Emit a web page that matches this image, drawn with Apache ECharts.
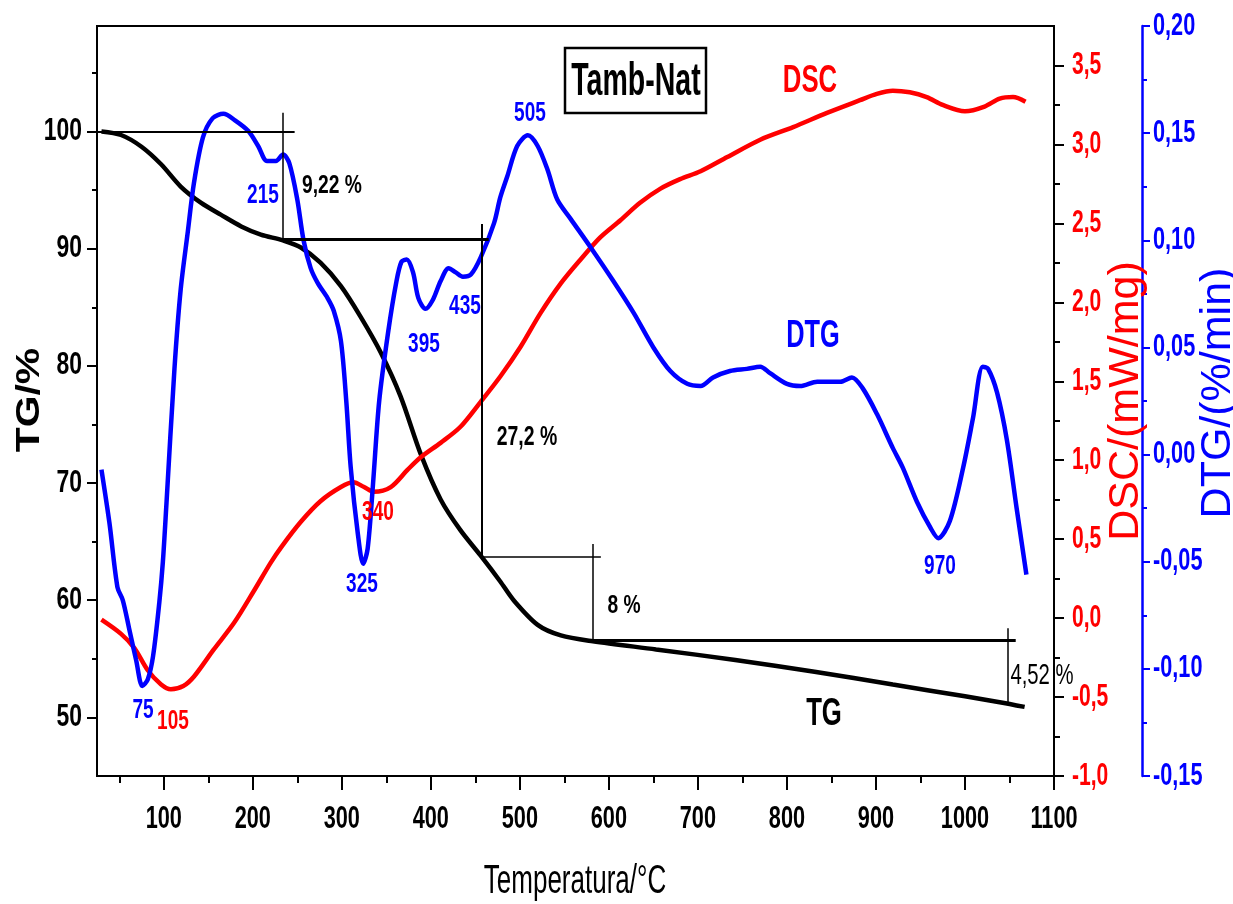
<!DOCTYPE html>
<html>
<head>
<meta charset="utf-8">
<script src="https://cdn.jsdelivr.net/npm/echarts@6/dist/echarts.min.js"></script>
<style>
  html, body { margin: 0; padding: 0; background: #fff; }
  #chart { width: 1233px; height: 904px; }
</style>
</head>
<body>
<div id="chart"></div>
<script>
// TG curve (%), temperature in °C
const tgTemp = [30, 52, 75, 97, 119, 142, 164, 187, 209, 234, 254, 276, 299, 321, 344, 366, 389, 411, 433, 456, 478, 493, 520, 546, 582, 653, 742, 831, 919, 1000, 1039, 1067];
const tgValue = [100.0, 99.7, 98.7, 97.2, 95.3, 93.9, 92.9, 91.9, 91.2, 90.7, 90.1, 88.8, 86.8, 84.2, 81.1, 77.4, 72.4, 68.6, 66.0, 63.8, 61.6, 60.0, 57.9, 57.0, 56.5, 55.8, 54.9, 53.9, 52.8, 51.8, 51.3, 50.9];

// DSC curve (mW/mg)
const dscTemp = [30, 52, 67, 82, 97, 108, 122, 134, 156, 179, 201, 220, 232, 254, 276, 299, 313, 325, 336, 355, 374, 389, 411, 433, 456, 478, 501, 523, 546, 568, 590, 613, 635, 658, 680, 703, 733, 770, 807, 845, 882, 901, 919, 938, 957, 975, 1000, 1022, 1039, 1054, 1068];
const dscValue = [-0.01, -0.10, -0.19, -0.33, -0.42, -0.45, -0.43, -0.37, -0.20, -0.03, 0.17, 0.35, 0.45, 0.61, 0.74, 0.83, 0.86, 0.83, 0.80, 0.83, 0.94, 1.02, 1.11, 1.21, 1.37, 1.53, 1.72, 1.93, 2.12, 2.27, 2.41, 2.52, 2.63, 2.72, 2.78, 2.83, 2.92, 3.03, 3.11, 3.20, 3.28, 3.32, 3.34, 3.33, 3.30, 3.25, 3.21, 3.24, 3.29, 3.30, 3.27];

// DTG curve (%/min)
const dtgTemp = [30, 39, 48, 54, 61, 69, 76, 82, 88, 95, 99, 103, 112, 119, 127, 134, 144, 155, 167, 180, 195, 206, 216, 226, 234, 241, 250, 257, 265, 273, 284, 291, 299, 305, 310, 318, 324, 329, 335, 342, 352, 361, 367, 373, 380, 386, 394, 402, 411, 420, 428, 436, 445, 456, 471, 478, 486, 497, 509, 520, 531, 542, 557, 579, 605, 628, 650, 669, 688, 703, 717, 736, 755, 770, 781, 800, 815, 834, 860, 873, 885, 901, 919, 930, 946, 961, 970, 983, 998, 1009, 1020, 1026, 1036, 1047, 1058, 1069];
const dtgValue = [-0.007, -0.032, -0.062, -0.068, -0.081, -0.096, -0.108, -0.105, -0.094, -0.069, -0.050, -0.023, 0.040, 0.077, 0.104, 0.127, 0.148, 0.157, 0.159, 0.156, 0.151, 0.144, 0.137, 0.137, 0.140, 0.136, 0.119, 0.100, 0.087, 0.080, 0.073, 0.067, 0.053, 0.025, -0.006, -0.037, -0.051, -0.044, -0.014, 0.025, 0.057, 0.080, 0.090, 0.091, 0.085, 0.073, 0.068, 0.072, 0.081, 0.087, 0.085, 0.083, 0.084, 0.092, 0.108, 0.120, 0.130, 0.144, 0.149, 0.144, 0.133, 0.119, 0.110, 0.097, 0.081, 0.066, 0.050, 0.039, 0.033, 0.032, 0.036, 0.039, 0.040, 0.041, 0.038, 0.033, 0.032, 0.034, 0.034, 0.036, 0.031, 0.019, 0.003, -0.006, -0.022, -0.034, -0.039, -0.031, -0.006, 0.017, 0.041, 0.040, 0.029, 0.007, -0.025, -0.056];

// mass-loss steps drawn on the TG scale: [T1, TG1, T2, TG2]
const stepSegments = [
  [26, 100, 247, 100],
  [234, 101.6, 234, 90.8],
  [234, 90.8, 465, 90.8],
  [457, 92.1, 457, 63.7],
  [457, 63.7, 591, 63.7],
  [582, 64.8, 582, 56.6],
  [582, 56.6, 1057, 56.6],
  [1048, 57.6, 1048, 51.3]
];

// tick labels
const xTicks = [100, 200, 300, 400, 500, 600, 700, 800, 900, 1000, 1100];
const xMinorTicks = [50, 150, 250, 350, 450, 550, 650, 750, 850, 950, 1050];
const tgTicks = [50, 60, 70, 80, 90, 100];
const tgMinorTicks = [55, 65, 75, 85, 95, 105];
const dscTicks = [-1, -0.5, 0, 0.5, 1, 1.5, 2, 2.5, 3, 3.5];
const dscMinorTicks = [-0.75, -0.25, 0.25, 0.75, 1.25, 1.75, 2.25, 2.75, 3.25];
const dtgTicks = [-0.15, -0.1, -0.05, 0, 0.05, 0.1, 0.15, 0.2];
const dtgMinorTicks = [-0.125, -0.075, -0.025, 0.025, 0.075, 0.125, 0.175];

const SANS = "'Liberation Sans', Arial, sans-serif";
const comma = (v, d) => v.toFixed(d).replace('.', ',');
const pairs = (xs, ys) => xs.map((x, i) => [x, ys[i]]);

const chart = echarts.init(document.getElementById('chart'));

function majorAxis(extra) {
  return Object.assign({
    type: 'value',
    splitLine: { show: false },
    axisLabel: { show: false },
    axisLine: { show: true, onZero: false, lineStyle: { color: '#000', width: 2 } }
  }, extra);
}
function minorAxis(extra, ticks, len, color) {
  return Object.assign({
    type: 'value',
    splitLine: { show: false },
    axisLine: { show: false, onZero: false },
    axisLabel: { show: false },
    axisTick: { show: true, customValues: ticks, length: len, lineStyle: { color: color, width: 2 } }
  }, extra);
}

// bold, horizontally squeezed text like the original figure
function txt(s, x, y, size, color, opts) {
  opts = opts || {};
  const align = opts.align || 'center';
  return {
    type: 'text', x: x, y: y, z: 100,
    rotation: opts.rot || 0,
    scaleX: opts.sx || 1,
    style: {
      text: s, fill: color,
      font: (opts.weight || 'bold') + ' ' + size + 'px ' + SANS,
      align: align, verticalAlign: 'middle',
      textAlign: align, textVerticalAlign: 'middle'
    }
  };
}

const stepWidths = [2, 1.5, 3, 2, 1.5, 1.5, 3, 1.5];

const option = {
  animation: false,
  grid: { left: 97, right: 179, top: 26, bottom: 128, show: true, borderColor: '#000', borderWidth: 2 },
  xAxis: [
    majorAxis({
      min: 25, max: 1100, position: 'bottom',
      axisTick: { show: true, customValues: xTicks, length: 14, lineStyle: { color: '#000', width: 2 } }
    }),
    minorAxis({ min: 25, max: 1100, position: 'bottom' }, xMinorTicks, 7, '#000')
  ],
  yAxis: [
    majorAxis({
      min: 45, max: 109, position: 'left',
      axisTick: { show: true, customValues: tgTicks, length: 10, lineStyle: { color: '#000', width: 2 } }
    }),
    minorAxis({ min: 45, max: 109, position: 'left' }, tgMinorTicks, 5, '#000'),
    majorAxis({
      min: -1, max: 3.75, position: 'right',
      axisTick: { show: true, customValues: dscTicks, length: 10, lineStyle: { color: '#000', width: 2 } }
    }),
    minorAxis({ min: -1, max: 3.75, position: 'right' }, dscMinorTicks, 6, '#000'),
    majorAxis({
      min: -0.15, max: 0.2, position: 'right', offset: 88,
      axisLine: { show: true, onZero: false, lineStyle: { color: '#0000ff', width: 2.5 } },
      axisTick: { show: true, customValues: dtgTicks, length: 8, lineStyle: { color: '#0000ff', width: 2 } }
    }),
    minorAxis({ min: -0.15, max: 0.2, position: 'right', offset: 88 }, dtgMinorTicks, 5, '#0000ff')
  ],
  series: [
    {
      name: 'TG', type: 'line', xAxisIndex: 0, yAxisIndex: 0,
      data: pairs(tgTemp, tgValue),
      showSymbol: false, smooth: 0.3,
      lineStyle: { color: '#000', width: 4.5 },
      markLine: {
        silent: true, symbol: ['none', 'none'], label: { show: false },
        lineStyle: { color: '#000', type: 'solid' },
        emphasis: { disabled: true },
        data: stepSegments.map((s, i) => [
          { coord: [s[0], s[1]], lineStyle: { color: '#000', type: 'solid', width: stepWidths[i] } },
          { coord: [s[2], s[3]] }
        ])
      },
      z: 2
    },
    {
      name: 'DSC', type: 'line', xAxisIndex: 0, yAxisIndex: 2,
      data: pairs(dscTemp, dscValue),
      showSymbol: false, smooth: 0.3,
      lineStyle: { color: '#ff0000', width: 4.5 },
      z: 3
    },
    {
      name: 'DTG', type: 'line', xAxisIndex: 0, yAxisIndex: 4,
      data: pairs(dtgTemp, dtgValue),
      showSymbol: false, smooth: 0.3,
      lineStyle: { color: '#0000ff', width: 4.5 },
      z: 4
    }
  ]
};

chart.setOption(option);

// texts of the figure
const graphics = [
  { type: 'rect', z: 100, shape: { x: 565, y: 48, width: 141, height: 65 }, style: { fill: '#fff', stroke: '#000', lineWidth: 2.5 } },
  txt('Tamb-Nat', 636, 82, 46, '#000', { sx: 0.62 }),
  txt('DSC', 810, 81, 39, '#ff0000', { sx: 0.66 }),
  txt('DTG', 813, 336, 39, '#0000ff', { sx: 0.65 }),
  txt('TG', 824, 714, 39, '#000', { sx: 0.66 }),
  txt('9,22 %', 332, 186, 26, '#000', { sx: 0.74 }),
  txt('27,2 %', 527, 438, 27, '#000', { sx: 0.72 }),
  txt('8 %', 624, 606, 26, '#000', { sx: 0.74 }),
  txt('4,52 %', 1042, 676, 29, '#000', { sx: 0.7, weight: 'normal' }),
  txt('75', 143, 710, 28, '#0000ff', { sx: 0.68 }),
  txt('215', 263, 195, 28, '#0000ff', { sx: 0.68 }),
  txt('325', 362, 584, 28, '#0000ff', { sx: 0.68 }),
  txt('395', 424, 344, 28, '#0000ff', { sx: 0.68 }),
  txt('435', 465, 306, 28, '#0000ff', { sx: 0.68 }),
  txt('505', 530, 113, 28, '#0000ff', { sx: 0.68 }),
  txt('970', 940, 566, 28, '#0000ff', { sx: 0.68 }),
  txt('105', 173, 721, 28, '#ff0000', { sx: 0.68 }),
  txt('340', 378, 512, 28, '#ff0000', { sx: 0.68 }),
  txt('TG/%', 30, 400, 34, '#000', { rot: Math.PI / 2, sx: 1.2 }),
  txt('DSC/(mW/mg)', 1126, 401, 43, '#ff0000', { rot: Math.PI / 2, weight: 'normal' }),
  txt('DTG/(%/min)', 1218, 393, 43, '#0000ff', { rot: Math.PI / 2, weight: 'normal' }),
  txt('Temperatura/°C', 575, 882, 40, '#000', { sx: 0.65, weight: 'normal' })
];

// tick labels placed through the axes' own scales
xTicks.forEach(v => {
  graphics.push(txt(String(v), chart.convertToPixel({ xAxisIndex: 0 }, v), 819, 31, '#000', { sx: 0.7 }));
});
tgTicks.forEach(v => {
  graphics.push(txt(String(v), 82, chart.convertToPixel({ yAxisIndex: 0 }, v), 31, '#000', { sx: 0.74, align: 'right' }));
});
dscTicks.forEach(v => {
  graphics.push(txt(comma(v, 1), 1072, chart.convertToPixel({ yAxisIndex: 2 }, v), 31, '#ff0000', { sx: 0.68, align: 'left' }));
});
dtgTicks.forEach(v => {
  graphics.push(txt(comma(v, 2), 1153, chart.convertToPixel({ yAxisIndex: 4 }, v), 31, '#0000ff', { sx: 0.7, align: 'left' }));
});

chart.setOption({ graphic: graphics });
</script>
</body>
</html>
